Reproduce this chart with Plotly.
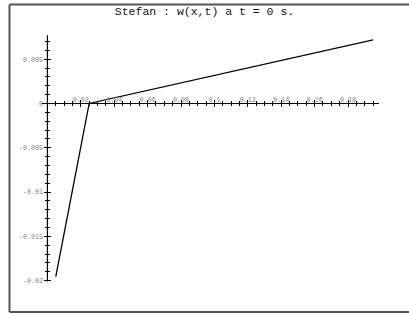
import plotly.graph_objects as go

# ---- data ----
x_vals = [0.005, 0.025, 0.195]
w_vals = [-0.01955, 0.0, 0.00717]

x_major = [0.02, 0.04, 0.06, 0.08, 0.1, 0.12, 0.14, 0.16, 0.18]
x_major_text = ["0.02", "0.04", "0.06", "0.08", "0.1", "0.12", "0.14", "0.16", "0.18"]
y_major = [-0.02, -0.015, -0.01, -0.005, 0, 0.005]
y_major_text = ["-0.02", "-0.015", "-0.01", "-0.005", "0", "0.005"]
x_minor = [round(0.005 * i, 4) for i in range(1, 40)]
y_minor = [round(0.001 * i, 4) for i in range(-20, 8)]

title_text = "Stefan : w(x,t) a t = 0 s."

# ---- view / layout ----
W, H = 409, 313
X_RANGE = [-0.0284, 0.2165]
Y_RANGE = [-0.02365, 0.01168]
X_VIEW = [-0.0033, 0.1985]
Y_VIEW = [-0.0201, 0.0077]

ypos = (0 - X_RANGE[0]) / (X_RANGE[1] - X_RANGE[0])   # where y-axis sits (paper x)
xpos = (0 - Y_RANGE[0]) / (Y_RANGE[1] - Y_RANGE[0])   # where x-axis sits (paper y)

lab_font = dict(family="Liberation Mono", size=6.7, color="#808080")

fig = go.Figure()
fig.add_trace(go.Scatter(x=x_vals, y=w_vals, mode="lines",
                         line=dict(color="black", width=1.3),
                         showlegend=False, hoverinfo="skip"))
for xa, ya in (("x2", "y2"), ("x3", "y3")):
    fig.add_trace(go.Scatter(x=x_vals, y=w_vals, mode="lines", xaxis=xa, yaxis=ya,
                             line=dict(color="rgba(0,0,0,0)", width=0),
                             showlegend=False, hoverinfo="skip"))

hidden = dict(showgrid=False, zeroline=False, showline=False, showticklabels=False, ticks="")
fig.update_layout(
    width=W, height=H, autosize=False,
    margin=dict(l=0, r=0, t=0, b=0),
    paper_bgcolor="white", plot_bgcolor="white",
    xaxis=dict(range=X_RANGE, domain=[0, 1], **hidden),
    yaxis=dict(range=Y_RANGE, domain=[0, 1], **hidden),
    xaxis2=dict(range=X_RANGE, overlaying="x", anchor="free", position=xpos, side="top",
                showgrid=False, zeroline=False, showline=False,
                tickmode="array", tickvals=x_major, ticktext=x_major_text,
                ticks="outside", ticklen=3, tickwidth=1, tickcolor="black",
                tickfont=lab_font, ticklabelstandoff=-4,
                minor=dict(tickmode="array", tickvals=x_minor, ticks="outside",
                           ticklen=2, tickwidth=1, tickcolor="black")),
    xaxis3=dict(range=X_RANGE, overlaying="x", anchor="free", position=xpos, side="top",
                showgrid=False, zeroline=False, showline=False, showticklabels=False,
                tickmode="array", tickvals=x_major,
                ticks="inside", ticklen=3, tickwidth=1, tickcolor="black",
                minor=dict(tickmode="array", tickvals=x_minor, ticks="inside",
                           ticklen=2, tickwidth=1, tickcolor="black")),
    yaxis2=dict(range=Y_RANGE, overlaying="y", anchor="free", position=ypos, side="left",
                showgrid=False, zeroline=False, showline=False,
                tickmode="array", tickvals=y_major, ticktext=y_major_text,
                ticks="outside", ticklen=3, tickwidth=1, tickcolor="black",
                tickfont=lab_font, ticklabelstandoff=0,
                minor=dict(tickmode="array", tickvals=y_minor, ticks="outside",
                           ticklen=2, tickwidth=1, tickcolor="black")),
    yaxis3=dict(range=Y_RANGE, overlaying="y", anchor="free", position=ypos, side="left",
                showgrid=False, zeroline=False, showline=False, showticklabels=False,
                tickmode="array", tickvals=y_major,
                ticks="inside", ticklen=3, tickwidth=1, tickcolor="black",
                minor=dict(tickmode="array", tickvals=y_minor, ticks="inside",
                           ticklen=2, tickwidth=1, tickcolor="black")),
    title=dict(text=title_text, x=0.5, xanchor="center", y=1 - 11 / H, yanchor="middle",
               font=dict(family="Liberation Mono", size=11.5, color="#111")),
)

# axis lines (Maple-style, crossing at the origin)
fig.add_shape(type="line", xref="x", yref="y", x0=X_VIEW[0], x1=X_VIEW[1], y0=0, y1=0,
              line=dict(color="black", width=1.2))
fig.add_shape(type="line", xref="x", yref="y", x0=0, x1=0, y0=Y_VIEW[0], y1=Y_VIEW[1],
              line=dict(color="black", width=1.2))
# outer frame: left, top, bottom edges (right edge is off-screen in the reference)
FL, FT, FB = 9.5 / W, 1 - 4.5 / H, 1 - 312 / H
frame = dict(color="#555555", width=2)
fig.add_shape(type="line", xref="paper", yref="paper", x0=FL, x1=FL, y0=FB, y1=FT, line=frame)
fig.add_shape(type="line", xref="paper", yref="paper", x0=FL, x1=1.0, y0=FT, y1=FT, line=frame)
fig.add_shape(type="line", xref="paper", yref="paper", x0=FL, x1=1.0, y0=FB, y1=FB, line=frame)

fig.write_html("out.html", config={"displayModeBar": False, "staticPlot": True},
               post_script="document.body.style.margin='0';document.body.style.overflow='hidden';"
                           "document.documentElement.style.overflow='hidden';")
